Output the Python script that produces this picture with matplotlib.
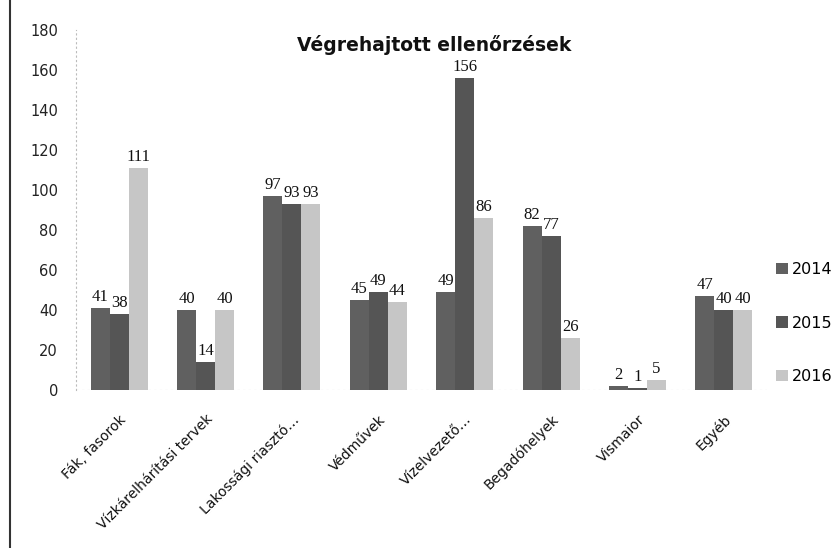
import matplotlib
matplotlib.use("Agg")
import matplotlib.pyplot as plt
import numpy as np
from matplotlib.patches import Patch
from matplotlib.lines import Line2D

categories = ["Fák, fasorok", "Vízkárelhárítási tervek", "Lakossági riasztó…", "Védművek",
              "Vízelvezető…", "Begadóhelyek", "Vismaior", "Egyéb"]
years = ["2014", "2015", "2016"]
v2014 = [41, 40, 97, 45, 49, 82, 2, 47]
v2015 = [38, 14, 93, 49, 156, 77, 1, 40]
v2016 = [111, 40, 93, 44, 86, 26, 5, 40]
yticks = [0, 20, 40, 60, 80, 100, 120, 140, 160, 180]

colors = ["#606060", "#555555", "#c6c6c6"]

fig = plt.figure(figsize=(8.38, 5.48), dpi=100)
ax = fig.add_axes([76/838, 1-390/548, (767-76)/838, (390-30)/548])

x = np.arange(len(categories))
w = 0.22
series = [v2014, v2015, v2016]
for i, (vals, c) in enumerate(zip(series, colors)):
    pos = x + (i - 1) * w
    ax.bar(pos, vals, width=w, color=c, edgecolor="none", zorder=2)
    for p, v in zip(pos, vals):
        ax.text(p, v + 1.5, str(v), ha="center", va="bottom", fontsize=12,
                family="Liberation Serif", color="#111111")

ax.set_xlim(-0.5, len(categories) - 0.5)
ax.set_ylim(0, 180)
ax.set_yticks(yticks)
ax.set_yticklabels([str(t) for t in yticks], fontsize=10.5, color="#222222")
ax.tick_params(axis="y", length=0, pad=13)
ax.set_xticks(x)
ax.set_xticklabels(categories, rotation=45, ha="right", rotation_mode="anchor",
                   fontsize=10, color="#111111")
ax.tick_params(axis="x", length=0, pad=16)
for s in ["top", "right", "bottom"]:
    ax.spines[s].set_visible(False)
ax.spines["left"].set_color("#bbbbbb")
ax.spines["left"].set_linestyle((0, (1, 3)))
ax.axhline(0, color="#bbbbbb", lw=0.8, ls=(0, (2, 3)), zorder=1)

fig.text(434/838, 1-45/548, "Végrehajtott ellenőrzések", ha="center", va="center",
         fontsize=13.5, fontweight="bold", color="#111111")

# chart frame line on left
fig.add_artist(Line2D([10/838, 10/838], [0, 1], transform=fig.transFigure,
                      color="#333333", lw=1.5))

handles = [Patch(facecolor=c, edgecolor="none") for c in colors]
fig.legend(handles, years, loc="center left", bbox_to_anchor=(770/838, 1-323/548),
           frameon=False, fontsize=11.5, handlelength=0.7, handleheight=0.7,
           handletextpad=0.3, labelspacing=2.4, borderaxespad=0)

fig.savefig("out.png", dpi=100)
